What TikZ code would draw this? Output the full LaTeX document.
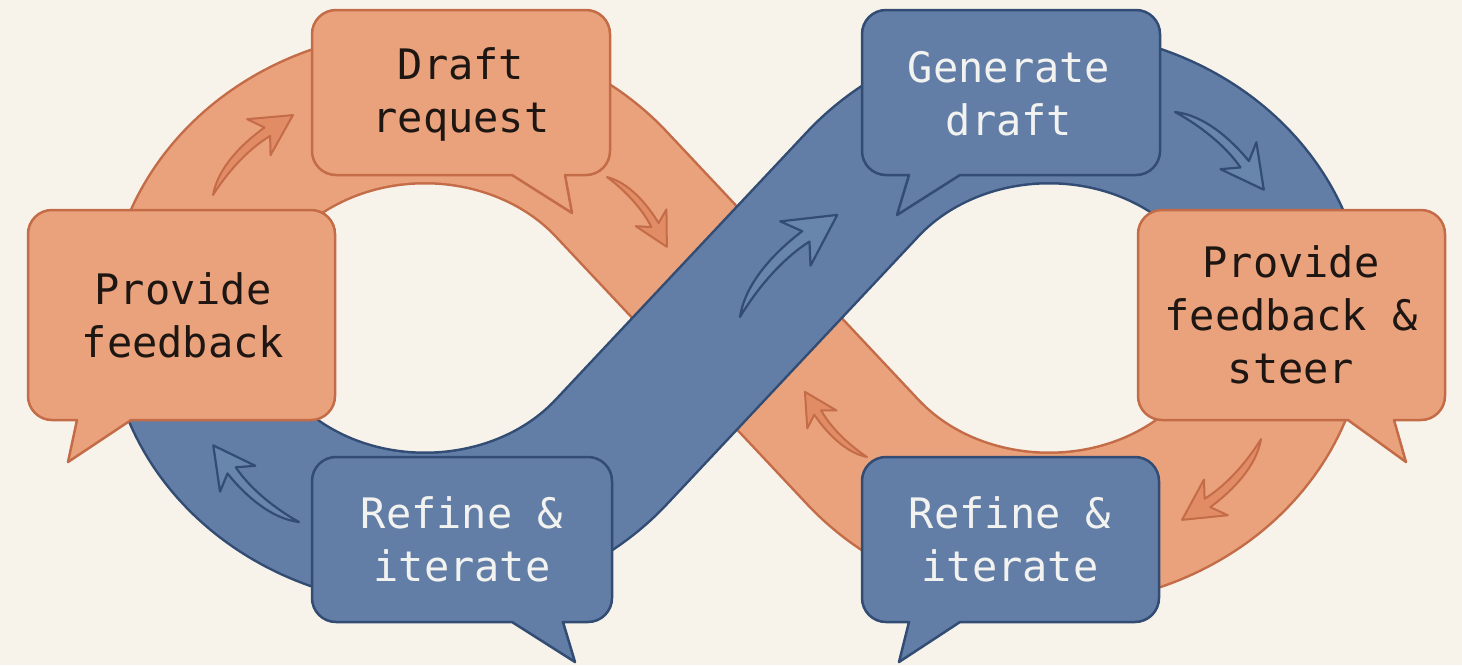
\documentclass[tikz,border=0pt]{standalone}
\usepackage{fontspec}
\setmonofont{DejaVu Sans Mono}
\definecolor{bg}{RGB}{247,243,234}
\definecolor{ofill}{RGB}{234,162,124}
\definecolor{oline}{RGB}{196,108,72}
\definecolor{oarrfill}{RGB}{226,140,102}
\definecolor{bfill}{RGB}{98,126,166}
\definecolor{bline}{RGB}{50,76,116}
\definecolor{barrfill}{RGB}{104,133,172}
\definecolor{btext}{RGB}{242,242,240}
\definecolor{otext}{RGB}{30,22,18}
% #1 style, #2 x1, #3 y1, #4 x2, #5 y2, #6 tail base left, #7 tail base right, #8 tip x, #9 tip y
\newcommand\speechbubble[9]{%
  \path[#1] (#2+24,#3) -- (#4-24,#3) arc[start angle=-90,end angle=0,radius=24]
    -- (#4,#5-24) arc[start angle=0,end angle=90,radius=24]
    -- (#7,#5) -- (#8,#9) -- (#6,#5)
    -- (#2+24,#5) arc[start angle=90,end angle=180,radius=24]
    -- (#2,#3+24) arc[start angle=180,end angle=270,radius=24] -- cycle;}
\tikzset{
  bandedgeO/.style={draw=oline, line width=155pt},
  bandO/.style={draw=ofill, line width=150pt},
  bandedgeB/.style={draw=bline, line width=155pt},
  bandB/.style={draw=bfill, line width=150pt},
  obubble/.style={fill=ofill, draw=oline, line width=2.5pt, line join=round},
  bbubble/.style={fill=bfill, draw=bline, line width=2.5pt, line join=round},
  otxt/.style={font=\ttfamily\fontsize{42}{53}\selectfont, text=otext, align=center, inner sep=0pt},
  btxt/.style={font=\ttfamily\fontsize{42}{53}\selectfont, text=btext, align=center, inner sep=0pt},
  oarrow/.style={fill=oarrfill, draw=oline, line width=2pt, line join=round},
  barrow/.style={fill=barrfill, draw=bline, line width=2.2pt, line join=round},
  flowarr/.pic={
    \path[pic actions] (0,0) .. controls (20,-14) and (50,-14) .. (74.5,-10)
      -- (68.8,-26.1) -- (100,0) -- (60.9,11.1) -- (72.7,-1.2)
      .. controls (50,-7) and (22,-5) .. (0,0) -- cycle;
  }
}
\begin{document}
\begin{tikzpicture}[x=1pt, y=-1pt]
  \fill[bg] (0,0) rectangle (1462,665);
  \useasboundingbox (0,0) rectangle (1462,665);
  % centre of the figure eight
  \coordinate (C) at (737,318);
  % orange band: upper-left arc, diagonal, lower-right arc
  \foreach \s in {bandedgeO, bandO}{
    \draw[\s] (184,318) arc[start angle=180, end angle=320.57, x radius=241, y radius=211]
      -- (C) -- (862.8,452) arc[start angle=140.57, end angle=0, x radius=241, y radius=211];
  }
  % blue band: upper-right arc, diagonal, lower-left arc
  \foreach \s in {bandedgeB, bandB}{
    \draw[\s] (1290,318) arc[start angle=0, end angle=-140.57, x radius=241, y radius=211]
      -- (C) -- (611.2,452) arc[start angle=39.43, end angle=180, x radius=241, y radius=211];
  }
  % flow arrows
  \pic[oarrow, rotate=45, scale=1.13] (a1) at (213,195) {flowarr};
  \pic[oarrow, rotate=-49.4, scale=0.92] (a2) at (607,177) {flowarr};
  \pic[barrow, rotate=46.4, scale=1.41] (a3) at (740,317) {flowarr};
  \pic[barrow, rotate=-41.2, scale=1.18] (a4) at (1175,112) {flowarr};
  \pic[oarrow, rotate=-134.3, scale=1.13] (a5) at (1261,439) {flowarr};
  \pic[oarrow, rotate=133.6, scale=0.90] (a6) at (867,457) {flowarr};
  \pic[barrow, rotate=138.2, scale=1.15] (a7) at (299,522) {flowarr};
  % speech bubbles
  \speechbubble{obubble}{28}{210}{335}{420}{77}{131}{68}{462}
  \speechbubble{obubble}{312}{10}{610}{175}{512}{565}{572}{213}
  \speechbubble{bbubble}{862}{10}{1160}{175}{909}{960}{897}{215}
  \speechbubble{obubble}{1138}{210}{1445}{420}{1348}{1394}{1406}{462}
  \speechbubble{bbubble}{312}{457}{612}{622}{512}{563}{575}{662}
  \speechbubble{bbubble}{862}{457}{1159}{622}{909}{960}{899}{662}
  % texts
  \node[otxt] (pf) at (183,315) {Provide\\feedback};
  \node[otxt] (dr) at (461,94) {Draft\\request};
  \node[btxt] (gd) at (1009,94) {Generate\\draft};
  \node[otxt] (pfs) at (1291,315) {Provide\\feedback \&\\steer};
  \node[btxt] (ri1) at (462,539) {Refine \&\\iterate};
  \node[btxt] (ri2) at (1010,539) {Refine \&\\iterate};
\end{tikzpicture}
\end{document}
